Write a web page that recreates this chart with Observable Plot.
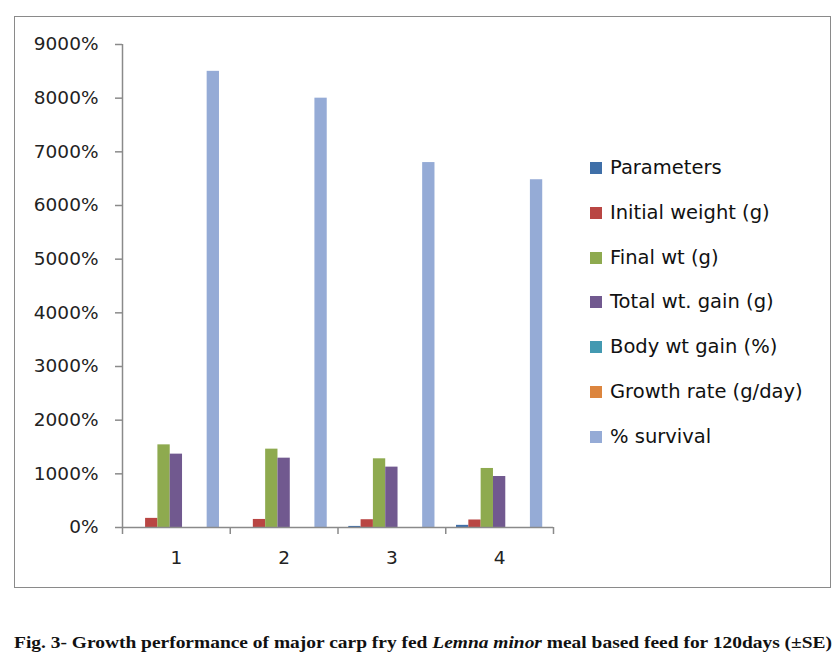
<!DOCTYPE html>
<html>
<head>
<meta charset="utf-8">
<script src="https://cdn.jsdelivr.net/npm/d3@7"></script>
<script src="https://cdn.jsdelivr.net/npm/@observablehq/plot@0.6"></script>
<style>
  html, body { margin: 0; padding: 0; background: #fff; }
  #wrap { position: relative; width: 840px; height: 666px; overflow: hidden; }
  #frame { position: absolute; left: 14px; top: 16px; width: 817px; height: 572px; border: 1.5px solid #8a8a8a; box-sizing: border-box; }
  #chart { position: absolute; left: 0; top: 0; }
  #legend { position: absolute; left: 590px; top: 156px; font-family: "DejaVu Sans", sans-serif; font-size: 19.5px; color: #111; }
  .item { position: absolute; left: 0; white-space: nowrap; height: 24px; line-height: 24px; }
  .sw { position: absolute; left: 0; top: 6px; width: 12px; height: 12px; }
  .lab { position: absolute; left: 20px; top: 0; }
  #caption { position: absolute; left: 0; top: 620px; }
</style>
</head>
<body>
<div id="wrap">
  <div id="frame"></div>
  <div id="chart"></div>
  <div id="legend"></div>
  <svg id="caption" width="840" height="40"></svg>
</div>
<script>
// ---- data ----
const groups = ["1", "2", "3", "4"];
const seriesNames = ["Parameters", "Initial weight (g)", "Final wt (g)", "Total wt. gain (g)", "Body wt gain (%)", "Growth rate (g/day)", "% survival"];
const seriesColors = ["#3f6fa8", "#b94643", "#8eaa4f", "#71598f", "#4399b1", "#dc853e", "#95abd6"];
const parameters   = [0, 0, 20, 40];
const initialWeight = [170, 150, 145, 140];
const finalWt      = [1540, 1460, 1280, 1100];
const totalWtGain  = [1367, 1292, 1125, 950];
const bodyWtGain   = [0, 0, 0, 0];
const growthRate   = [0, 0, 0, 0];
const survival     = [8500, 8000, 6800, 6480];
const yTicks = [0, 1000, 2000, 3000, 4000, 5000, 6000, 7000, 8000, 9000];

const seriesValues = [parameters, initialWeight, finalWt, totalWtGain, bodyWtGain, growthRate, survival];

// table built from the arrays
const groupSpan = 0.8;           // fraction of each category used by bars
const nS = seriesNames.length;
const table = [];
groups.forEach((g, gi) => {
  seriesNames.forEach((s, si) => {
    const center = gi + 1;
    const x1 = center - groupSpan / 2 + si * groupSpan / nS;
    table.push({group: g, series: s, value: seriesValues[si][gi], x1, x2: x1 + groupSpan / nS});
  });
});

const axisColor = "#8a8a8a";
const bounds = d3.range(groups.length + 1).map(i => i + 0.5);
const centers = groups.map((g, i) => i + 1);

const chart = Plot.plot({
  width: 840,
  height: 600,
  marginLeft: 122,
  marginRight: 287,
  marginTop: 44,
  marginBottom: 73,
  style: {fontFamily: "DejaVu Sans, sans-serif", background: "transparent", overflow: "visible"},
  x: {type: "linear", domain: [0.5, groups.length + 0.5], axis: null},
  y: {domain: [0, 9000], axis: null},
  color: {domain: seriesNames, range: seriesColors},
  marks: [
    Plot.rectY(table, {x1: "x1", x2: "x2", y: "value", fill: "series"}),
    Plot.ruleX([0.5], {stroke: axisColor, strokeWidth: 1.5}),
    Plot.ruleY([0], {stroke: axisColor, strokeWidth: 1.5}),
    Plot.axisY({ticks: yTicks, tickFormat: d => d + "%", tickSize: 7, tickPadding: 17, label: null,
      stroke: axisColor, strokeWidth: 1.5, strokeOpacity: 1, fill: "#222", fontSize: 18.5}),
    Plot.axisX({ticks: bounds, tickFormat: () => "", tickSize: 7, label: null,
      stroke: axisColor, strokeWidth: 1.5, strokeOpacity: 1}),
    Plot.axisX({ticks: centers, tickFormat: i => groups[i - 1], tickSize: 0, tickPadding: 23, label: null,
      fill: "#222", fontSize: 18.5})
  ]
});
document.getElementById("chart").appendChild(chart);

// legend
const legend = document.getElementById("legend");
seriesNames.forEach((s, i) => {
  const item = document.createElement("div");
  item.className = "item";
  item.style.top = (i * 44.8) + "px";
  item.innerHTML = `<span class="sw" style="background:${seriesColors[i]}"></span><span class="lab">${s}</span>`;
  legend.appendChild(item);
});

// caption
const cap = d3.select("#caption");
const t = cap.append("text")
  .attr("x", 14).attr("y", 28)
  .attr("font-family", "Liberation Serif, Times New Roman, serif")
  .attr("font-weight", "bold").attr("font-size", 17)
  .attr("fill", "#111")
  .attr("textLength", 818).attr("lengthAdjust", "spacingAndGlyphs");
t.append("tspan").text("Fig. 3- Growth performance of major carp fry fed ");
t.append("tspan").attr("font-style", "italic").text("Lemna minor");
t.append("tspan").text(" meal based feed for 120days (±SE)");
</script>
</body>
</html>
